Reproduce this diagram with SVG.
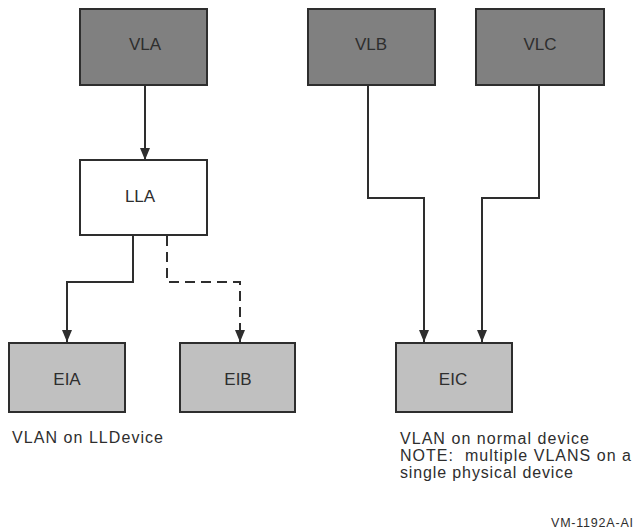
<svg xmlns="http://www.w3.org/2000/svg" width="635" height="531" viewBox="0 0 635 531">
<style>
.dark{fill:#808080;stroke:#2e2e2e;stroke-width:2}
.light{fill:#c0c0c0;stroke:#2e2e2e;stroke-width:2}
.white{fill:#ffffff;stroke:#2e2e2e;stroke-width:2}
.lbl{font-family:"Liberation Sans",Arial,sans-serif;font-size:17px;fill:#2e2e2e;text-anchor:middle}
.note{font-family:"Liberation Sans",Arial,sans-serif;font-size:16px;fill:#2e2e2e}
.wire{fill:none;stroke:#2e2e2e;stroke-width:2;marker-end:url(#arr)}
.dash{stroke-dasharray:10,6}
</style>
<defs>
<marker id="arr" markerWidth="13" markerHeight="10" refX="12" refY="5" orient="auto" markerUnits="userSpaceOnUse" viewBox="0 0 13 10">
<path d="M0,0 L12,5 L0,10 Z" fill="#2e2e2e"/>
</marker>
</defs>
<g id="connectors">
<path class="wire" d="M145,85 V160"/>
<path class="wire" d="M133,235 V282 H67 V342"/>
<path class="wire dash" d="M167,236 V282 H240 V342"/>
<path class="wire" d="M368,85 V198 H424 V342"/>
<path class="wire" d="M539,85 V198 H482 V342"/>
</g>
<g id="VLA"><rect class="dark" x="80" y="9" width="127" height="76"/><text class="lbl" x="145" y="50">VLA</text></g>
<g id="VLB"><rect class="dark" x="308" y="9" width="127" height="76"/><text class="lbl" x="371" y="50">VLB</text></g>
<g id="VLC"><rect class="dark" x="476" y="9" width="128" height="76"/><text class="lbl" x="540" y="50">VLC</text></g>
<g id="LLA"><rect class="white" x="80" y="160" width="127" height="75"/><text class="lbl" x="140" y="202">LLA</text></g>
<g id="EIA"><rect class="light" x="9" y="343" width="116" height="69"/><text class="lbl" x="67" y="385">EIA</text></g>
<g id="EIB"><rect class="light" x="180" y="343" width="115" height="69"/><text class="lbl" x="238" y="385">EIB</text></g>
<g id="EIC"><rect class="light" x="396" y="343" width="116" height="69"/><text class="lbl" x="453" y="385">EIC</text></g>
<text class="note" x="12" y="443" textLength="151" lengthAdjust="spacing">VLAN on LLDevice</text>
<text class="note" x="400" y="444" textLength="189" lengthAdjust="spacing">VLAN on normal device</text>
<text class="note" x="400" y="461" textLength="231" lengthAdjust="spacing">NOTE:&#160; multiple VLANS on a</text>
<text class="note" x="400" y="478" textLength="173" lengthAdjust="spacing">single physical device</text>
<text x="551" y="527" font-family="'Liberation Sans',Arial,sans-serif" font-size="12.5" fill="#2e2e2e" textLength="82" lengthAdjust="spacing">VM-1192A-AI</text>
</svg>
